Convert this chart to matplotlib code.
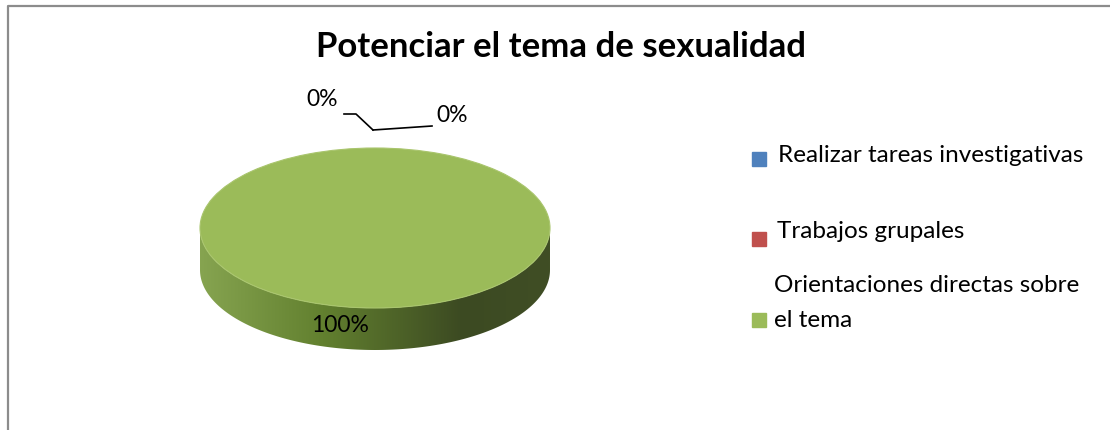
import numpy as np
import matplotlib
matplotlib.use("Agg")
import matplotlib.pyplot as plt
from matplotlib.patches import Rectangle, Polygon
from matplotlib.transforms import Affine2D
from matplotlib.colors import LinearSegmentedColormap

title = "Potenciar el tema de sexualidad"
categories = ["Realizar tareas investigativas", "Trabajos grupales",
              "Orientaciones directas sobre\nel tema"]
values = [0, 0, 100]
colors = ["#4F81BD", "#C0504D", "#9BBB59"]

plt.rcParams['font.family'] = ['Lato', 'DejaVu Sans']

fig = plt.figure(figsize=(11.1, 4.3), dpi=100)
ax = fig.add_axes([0, 0, 1, 1])

# pie geometry in pixel units
cx, cy, rx, ry, depth = 375, 228, 175, 80, 42

# side of the cylinder with a horizontal shading
t = np.linspace(0, np.pi, 200)
top_arc = np.column_stack([cx + rx * np.cos(t), cy + ry * np.sin(t)])
bot_arc = np.column_stack([cx + rx * np.cos(t[::-1]), cy + depth + ry * np.sin(t[::-1])])
side = Polygon(np.vstack([top_arc, bot_arc]), closed=True, facecolor="none", edgecolor="none")
ax.add_patch(side)
shade = LinearSegmentedColormap.from_list(
    "side", [(0, "#86a450"), (0.35, "#62802f"), (0.75, "#3c4a22"), (1, "#404e25")])
grad = np.linspace(0, 1, 256).reshape(1, -1)
im = ax.imshow(grad, cmap=shade, extent=(cx - rx, cx + rx, cy + ry + depth + 2, cy - 2),
               aspect="auto", interpolation="bilinear")
im.set_clip_path(side)

# top face from the data
wedges, _ = ax.pie(values, colors=colors, startangle=90, counterclock=False,
                   wedgeprops=dict(linewidth=0.8, edgecolor="#a9c56d"))
for w in wedges:
    w.set_transform(Affine2D().scale(rx, -ry).translate(cx, cy) + ax.transData)

ax.set_aspect("auto")
ax.set_xlim(0, 1110)
ax.set_ylim(430, 0)
ax.axis("off")

# percentage labels
total = sum(values)
pct = [f"{v / total * 100:.0f}%" for v in values]
ax.text(322, 100, pct[0], fontsize=16.5, ha="center", va="center")
ax.text(452, 115, pct[1], fontsize=16.5, ha="center", va="center")
ax.text(340, 325, pct[2], fontsize=16.5, ha="center", va="center")
ax.plot([344, 356, 373], [114, 114, 130], color="black", lw=1.2)
ax.plot([373, 432], [130, 126], color="black", lw=1.2)

ax.text(561, 47, title, fontsize=25, fontweight="bold", ha="center", va="center")

# legend
sq_y = [159, 239, 320]
txt_pos = [(778, 155), (777, 232), (774, 303)]
for c, lab, y, (tx, ty) in zip(colors, categories, sq_y, txt_pos):
    ax.add_patch(Rectangle((752, y - 7), 14, 14, color=c))
    ax.text(tx, ty, lab, fontsize=17.5, ha="left", va="center", linespacing=1.8)

# chart border (top and left visible)
ax.plot([8, 8, 1110], [430, 6, 6], color="#8c8c8c", lw=1.6)

fig.savefig("out.png", dpi=100)
